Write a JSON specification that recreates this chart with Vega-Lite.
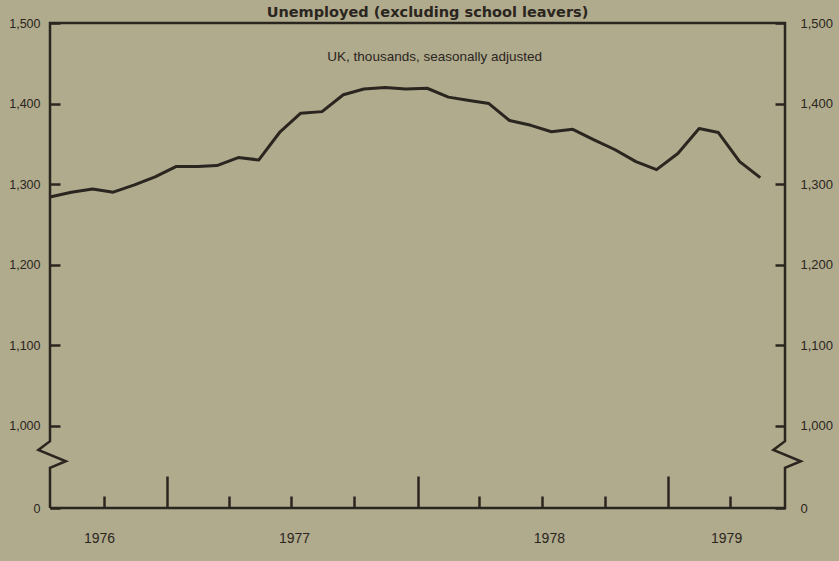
{
  "$schema": "https://vega.github.io/schema/vega-lite/v6.json",
  "width": 735,
  "height": 485,
  "autosize": {"type": "none"},
  "padding": {"left": 50, "top": 23, "right": 54, "bottom": 53},
  "background": "#b0ab8d",
  "title": {
    "text": "Unemployed (excluding school leavers)",
    "font": "DejaVu Sans",
    "fontSize": 14.5,
    "fontWeight": "bold",
    "color": "#2b2520",
    "anchor": "middle",
    "dx": 10,
    "offset": -17,
    "baseline": "bottom"
  },
  "datasets": {
    "series": [
      {"date": "1976-07-15", "value": 1284},
      {"date": "1976-08-15", "value": 1290},
      {"date": "1976-09-15", "value": 1294},
      {"date": "1976-10-15", "value": 1290},
      {"date": "1976-11-15", "value": 1299},
      {"date": "1976-12-15", "value": 1309},
      {"date": "1977-01-15", "value": 1322},
      {"date": "1977-02-15", "value": 1322},
      {"date": "1977-03-15", "value": 1323},
      {"date": "1977-04-15", "value": 1333},
      {"date": "1977-05-15", "value": 1330},
      {"date": "1977-06-15", "value": 1365},
      {"date": "1977-07-15", "value": 1388},
      {"date": "1977-08-15", "value": 1390},
      {"date": "1977-09-15", "value": 1411},
      {"date": "1977-10-15", "value": 1418},
      {"date": "1977-11-15", "value": 1420},
      {"date": "1977-12-15", "value": 1418},
      {"date": "1978-01-15", "value": 1419},
      {"date": "1978-02-15", "value": 1408},
      {"date": "1978-03-15", "value": 1404},
      {"date": "1978-04-15", "value": 1400},
      {"date": "1978-05-15", "value": 1379},
      {"date": "1978-06-15", "value": 1373},
      {"date": "1978-07-15", "value": 1365},
      {"date": "1978-08-15", "value": 1368},
      {"date": "1978-09-15", "value": 1355},
      {"date": "1978-10-15", "value": 1343},
      {"date": "1978-11-15", "value": 1328},
      {"date": "1978-12-15", "value": 1318},
      {"date": "1979-01-15", "value": 1338},
      {"date": "1979-02-15", "value": 1369},
      {"date": "1979-03-15", "value": 1364},
      {"date": "1979-04-15", "value": 1328},
      {"date": "1979-05-15", "value": 1308}
    ],
    "frame": [
      {"ord": 0, "date": "1976-07-15", "val": 898},
      {"ord": 1, "date": "1976-07-15", "val": 948},
      {"ord": 2, "date": "1976-08-07", "val": 956},
      {"ord": 3, "date": "1976-06-28", "val": 970},
      {"ord": 4, "date": "1976-07-15", "val": 981},
      {"ord": 5, "date": "1976-07-15", "val": 1500},
      {"ord": 6, "date": "1979-06-20", "val": 1500},
      {"ord": 7, "date": "1979-06-20", "val": 981},
      {"ord": 8, "date": "1979-06-03", "val": 970},
      {"ord": 9, "date": "1979-07-13", "val": 956},
      {"ord": 10, "date": "1979-06-20", "val": 948},
      {"ord": 11, "date": "1979-06-20", "val": 898},
      {"ord": 12, "date": "1976-07-15", "val": 898}
    ],
    "years": [
      {"date": "1976-09-25", "label": "1976"},
      {"date": "1977-07-06", "label": "1977"},
      {"date": "1978-07-12", "label": "1978"},
      {"date": "1979-03-27", "label": "1979"}
    ],
    "note": [
      {"date": "1978-01-26", "label": "UK, thousands, seasonally adjusted"}
    ]
  },
  "resolve": {"axis": {"x": "independent", "y": "independent"}},
  "layer": [
    {
      "data": {"name": "frame"},
      "mark": {"type": "line", "color": "#2b2520", "strokeWidth": 2.5, "clip": false, "strokeJoin": "miter"},
      "encoding": {
        "x": {
          "field": "date", "type": "temporal",
          "scale": {"domain": [{"year": 1976, "month": 7, "date": 15}, {"year": 1979, "month": 6, "date": 20}]},
          "axis": {
            "orient": "bottom",
            "values": [
              {"year": 1976, "month": 10, "date": 1},
              {"year": 1977, "month": 4, "date": 1},
              {"year": 1977, "month": 7, "date": 1},
              {"year": 1977, "month": 10, "date": 1},
              {"year": 1978, "month": 4, "date": 1},
              {"year": 1978, "month": 7, "date": 1},
              {"year": 1978, "month": 10, "date": 1},
              {"year": 1979, "month": 4, "date": 1}
            ],
            "tickSize": -12, "labels": false, "title": null
          }
        },
        "y": {
          "field": "val", "type": "quantitative",
          "scale": {"domain": [898, 1500], "nice": false, "zero": false},
          "axis": {
            "orient": "left",
            "values": [898, 1000, 1100, 1200, 1300, 1400, 1500],
            "labelExpr": "datum.value < 950 ? '0' : format(datum.value, ',')",
            "tickSize": -10, "labelPadding": 20, "labelFontSize": 12.5, "title": null
          }
        },
        "order": {"field": "ord", "type": "quantitative"}
      }
    },
    {
      "data": {"name": "series"},
      "mark": {"type": "line", "color": "#2b2520", "strokeWidth": 3, "strokeJoin": "round"},
      "encoding": {
        "x": {
          "field": "date", "type": "temporal",
          "scale": {"domain": [{"year": 1976, "month": 7, "date": 15}, {"year": 1979, "month": 6, "date": 20}]},
          "axis": {
            "orient": "bottom",
            "values": [
              {"year": 1977, "month": 1, "date": 1},
              {"year": 1978, "month": 1, "date": 1},
              {"year": 1979, "month": 1, "date": 1}
            ],
            "tickSize": -32, "labels": false, "title": null
          }
        },
        "y": {
          "field": "value", "type": "quantitative",
          "scale": {"domain": [898, 1500], "nice": false, "zero": false},
          "axis": {
            "orient": "right",
            "values": [898, 1000, 1100, 1200, 1300, 1400, 1500],
            "labelExpr": "datum.value < 950 ? '0' : format(datum.value, ',')",
            "tickSize": -10, "labelPadding": 25, "labelFontSize": 13, "title": null
          }
        }
      }
    },
    {
      "data": {"name": "years"},
      "mark": {"type": "text", "font": "Liberation Sans", "fontSize": 14, "color": "#2b2520", "align": "center", "baseline": "middle", "clip": false},
      "encoding": {
        "x": {"field": "date", "type": "temporal", "axis": null,
          "scale": {"domain": [{"year": 1976, "month": 7, "date": 15}, {"year": 1979, "month": 6, "date": 20}]}},
        "y": {"datum": 860, "type": "quantitative", "axis": null,
          "scale": {"domain": [898, 1500], "nice": false, "zero": false}},
        "text": {"field": "label"}
      }
    },
    {
      "data": {"name": "note"},
      "mark": {"type": "text", "font": "Liberation Sans", "fontSize": 13.5, "color": "#2b2520", "align": "center", "baseline": "middle"},
      "encoding": {
        "x": {"field": "date", "type": "temporal", "axis": null,
          "scale": {"domain": [{"year": 1976, "month": 7, "date": 15}, {"year": 1979, "month": 6, "date": 20}]}},
        "y": {"datum": 1458, "type": "quantitative", "axis": null,
          "scale": {"domain": [898, 1500], "nice": false, "zero": false}},
        "text": {"field": "label"}
      }
    }
  ],
  "config": {
    "view": {"stroke": null},
    "axis": {
      "domain": false,
      "grid": false,
      "ticks": true,
      "tickColor": "#2b2520",
      "tickWidth": 2.5,
      "labelFont": "Liberation Sans",
      "labelColor": "#2b2520"
    }
  }
}
